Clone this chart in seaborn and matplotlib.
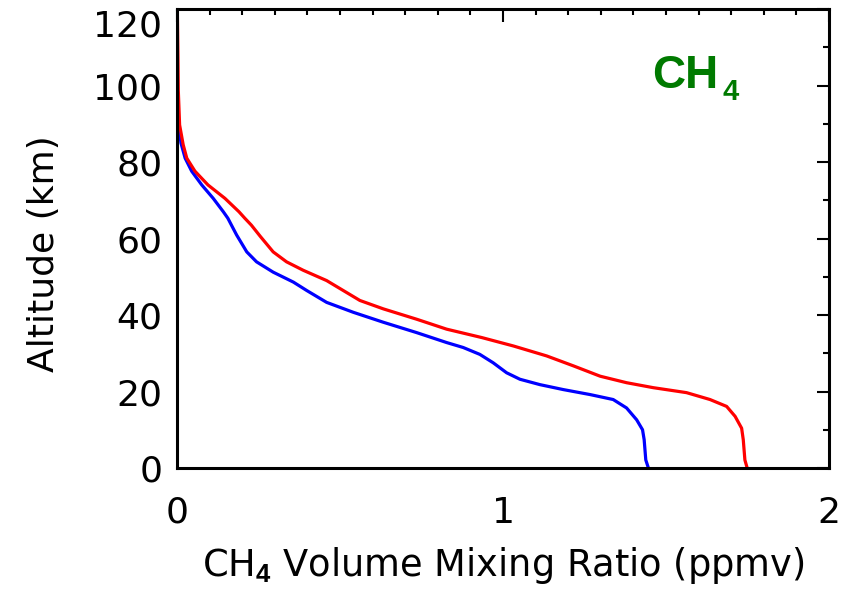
import matplotlib
matplotlib.use("Agg")
import matplotlib.pyplot as plt
import seaborn as sns
import numpy as np
import pandas as pd
from matplotlib.ticker import MultipleLocator

# Blue profile: altitude (km) and CH4 VMR (ppmv)
blue_alt = [0.0, 2.1, 7.4, 10.0, 12.6, 15.7, 17.9, 19.2, 20.5, 21.8, 23.2, 24.9, 27.5,
            29.7, 31.5, 32.8, 35.4, 38.1, 40.7, 43.3, 46.4, 48.6, 51.2, 53.9, 56.5,
            60.9, 63.5, 65.3, 67.0, 70.5, 74.0, 77.6, 81.0, 85.0, 90.0, 95.0, 102.0]
blue_vmr = [1.446, 1.438, 1.433, 1.428, 1.410, 1.379, 1.338, 1.267, 1.185, 1.113, 1.052,
            1.011, 0.970, 0.929, 0.878, 0.827, 0.735, 0.633, 0.541, 0.459, 0.398, 0.357,
            0.295, 0.244, 0.214, 0.183, 0.167, 0.156, 0.142, 0.111, 0.076, 0.045, 0.025,
            0.012, 0.005, 0.002, 0.0]

# Red profile: altitude (km) and CH4 VMR (ppmv)
red_alt = [0.0, 2.1, 7.4, 10.4, 13.5, 16.1, 17.9, 19.7, 21.0, 22.3, 24.0, 26.7, 29.3,
           31.9, 34.1, 36.3, 38.9, 41.6, 43.8, 46.4, 49.0, 51.7, 53.9, 56.5, 60.5,
           63.5, 65.3, 67.0, 70.5, 74.0, 77.6, 81.0, 84.5, 89.7, 98.7, 107.0, 120.0]
red_vmr = [1.749, 1.742, 1.737, 1.732, 1.712, 1.686, 1.635, 1.563, 1.461, 1.379, 1.298,
           1.216, 1.134, 1.032, 0.935, 0.827, 0.735, 0.633, 0.561, 0.510, 0.459, 0.387,
           0.336, 0.295, 0.256, 0.228, 0.208, 0.190, 0.147, 0.095, 0.055, 0.030, 0.019,
           0.008, 0.004, 0.003, 0.001]

x_ticks = [0, 1, 2]
y_ticks = [0, 20, 40, 60, 80, 100, 120]

sns.set_style("white")
plt.rcParams['font.family'] = ['DejaVu Sans']
plt.rcParams['text.color'] = 'black'
plt.rcParams['axes.labelcolor'] = 'black'
plt.rcParams['xtick.color'] = 'black'
plt.rcParams['ytick.color'] = 'black'
plt.rcParams['mathtext.fontset'] = 'custom'
plt.rcParams['mathtext.rm'] = 'Liberation Sans'
plt.rcParams['mathtext.bf'] = 'Liberation Sans:bold'

fig = plt.figure(figsize=(8.56, 5.91), dpi=100)
ax = fig.add_axes([177/856, 1-468/591, (829-177)/856, (468-9)/591])

dfb = pd.DataFrame({"vmr": blue_vmr, "alt": blue_alt})
dfr = pd.DataFrame({"vmr": red_vmr, "alt": red_alt})
sns.lineplot(data=dfb, x="vmr", y="alt", sort=False, estimator=None, color="#0000ff", lw=2.3, ax=ax)
sns.lineplot(data=dfr, x="vmr", y="alt", sort=False, estimator=None, color="#ff0000", lw=2.3, ax=ax)

ax.set_xlim(0, 2)
ax.set_ylim(0, 120)
ax.set_xticks(x_ticks)
ax.set_yticks(y_ticks)
ax.set_xticklabels([str(v) for v in x_ticks])
ax.set_yticklabels([str(v) for v in y_ticks])
ax.yaxis.get_ticklabels()[-1].set_verticalalignment('top')
ax.xaxis.set_minor_locator(MultipleLocator(0.1))
ax.yaxis.set_minor_locator(MultipleLocator(10))
ax.tick_params(which='both', direction='in', top=True, right=True, width=1.5, colors='black',
               labelsize=26)
ax.tick_params(which='major', length=9)
ax.tick_params(which='minor', length=4.5)
ax.tick_params(axis='x', which='major', pad=20)
ax.tick_params(axis='y', which='major', pad=10.5)
for s in ax.spines.values():
    s.set_linewidth(2.2)
    s.set_color('black')

ax.set_xlabel(r"CH$_\mathbf{4}$ Volume Mixing Ratio (ppmv)", fontsize=26.5)
ax.xaxis.set_label_coords(0.5, -0.168)
ax.set_ylabel("Altitude (km)", fontsize=26)
ax.yaxis.set_label_coords(-0.178, 0.468)

ax.text(0.7285, 0.828, "CH", transform=ax.transAxes, color="#007a00",
        fontsize=33, fontweight='bold', family='Liberation Sans', ha='left', va='baseline')
ax.text(0.836, 0.802, "4", transform=ax.transAxes, color="#007a00",
        fontsize=21, fontweight='bold', family='Liberation Sans', ha='left', va='baseline')

fig.savefig("out.png", dpi=100)
